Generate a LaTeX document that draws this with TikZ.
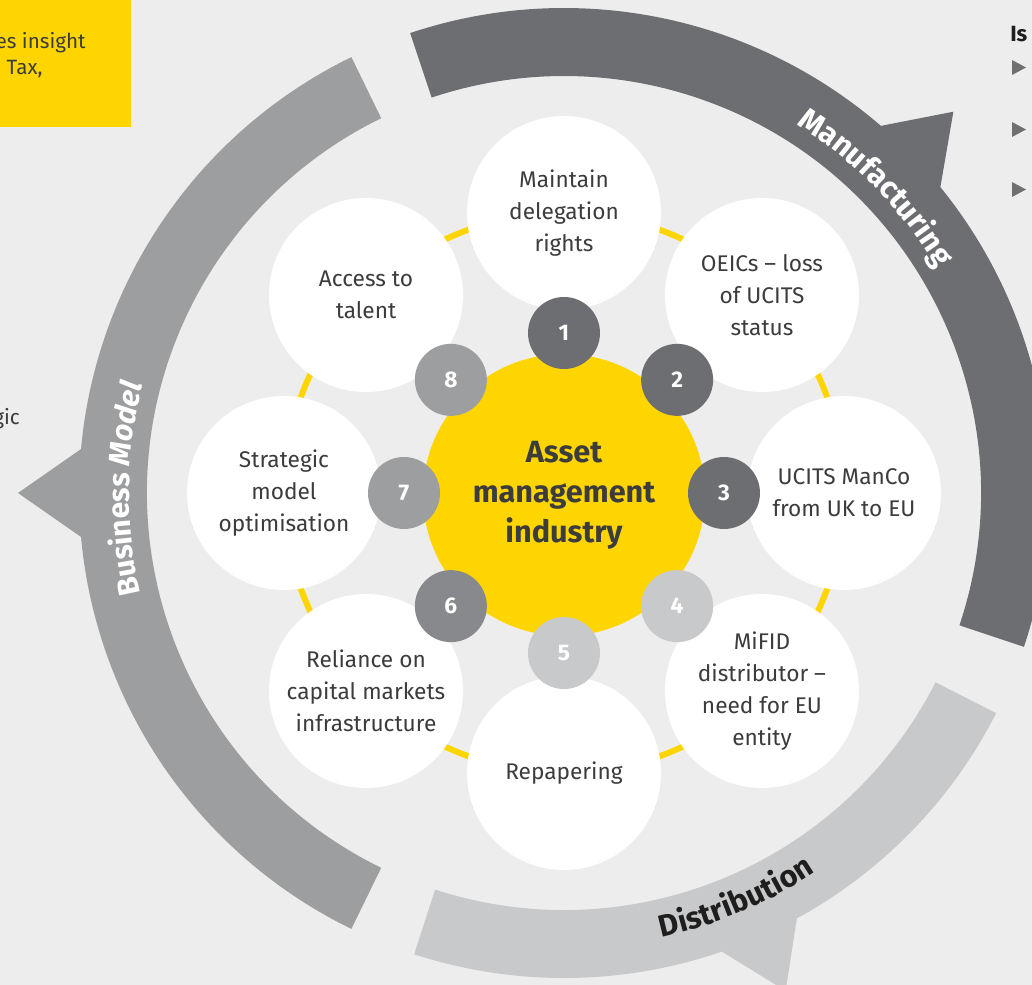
\documentclass[tikz,border=0pt]{standalone}
\usepackage{fontspec}
\setmainfont{Fira Sans}
\usetikzlibrary{decorations.text}
\definecolor{bg}{HTML}{EDEDED}
\definecolor{eyyellow}{HTML}{FFD500}
\definecolor{mfg}{HTML}{6D6E71}
\definecolor{bus}{HTML}{9D9EA0}
\definecolor{busdark}{HTML}{88898C}
\definecolor{dist}{HTML}{C8C9CB}
\definecolor{txt}{HTML}{3C3C3C}
\definecolor{txtdark}{HTML}{1E1E1E}
\definecolor{bullet}{HTML}{707070}
\tikzset{
  topic/.style={circle, fill=white, minimum size=145.5pt, inner sep=0pt, align=center,
    text=txt, font=\fontsize{17}{24}\selectfont},
  core/.style={circle, fill=eyyellow, minimum size=211.5pt, inner sep=0pt, align=center,
    text=txt, font=\fontsize{23}{30}\selectfont\bfseries},
  num/.style={circle, minimum size=54pt, inner sep=0pt, text=white,
    font=\fontsize{17}{20}\selectfont\bfseries},
  side/.style={text=txt, font=\fontsize{15.5}{22}\selectfont, inner sep=0pt}
}
\begin{document}
\begin{tikzpicture}[x=0.75pt,y=0.75pt]
% origin = centre of the diagram; 1 unit = 1 px of the reference
\useasboundingbox (-564,-492) rectangle (468,493);
\clip (-564,-492) rectangle (468,493);
\fill[bg] (-564,-492) rectangle (468,493);

% top-left yellow box with cropped text
\fill[eyyellow] (-564,366) rectangle (-433,493);
\node[side, anchor=base east] (ins) at (-478,444) {es insight};
\node[side, anchor=base east] (tax) at (-521,418) {n Tax,};
\node[side, anchor=base east] (gic) at (-544,68) {strategic};

% top-right cropped heading and bullets
\node[anchor=base west, inner sep=0pt, text=txtdark, font=\fontsize{16.5}{20}\selectfont\bfseries] (is) at (446,451) {Is};
\foreach \yc in {425.5,363.5,303.5}{
  \fill[bullet] (448,\yc+7.5) -- (462,\yc) -- (448,\yc-7.5) -- cycle;
}

% outer arrows
\fill[mfg] (108.5:485) arc[start angle=108.5,end angle=49.2,radius=485]
  -- (44.4:545) -- (39.1:485) arc[start angle=39.1,end angle=-18.5,radius=485]
  -- (-18.5:417) arc[start angle=-18.5,end angle=108.5,radius=417] -- cycle;
\fill[bus] (116:485) arc[start angle=116,end angle=174.8,radius=485]
  -- (180:546) -- (185.2:485) arc[start angle=185.2,end angle=244,radius=485]
  -- (244:417) arc[start angle=244,end angle=116,radius=417] -- cycle;
\fill[dist] (252:485) arc[start angle=252,end angle=289,radius=485]
  -- (294:545) -- (298.7:485) arc[start angle=298.7,end angle=333,radius=485]
  -- (333:417) arc[start angle=333,end angle=252,radius=417] -- cycle;

% arrow labels
\path[decorate, decoration={text along path, text align=center,
  text={|\fontsize{23}{26}\selectfont\bfseries\color{white}|Manufacturing}}]
  (84.4:436) arc[start angle=84.4,end angle=4.4,radius=436];
\path[decorate, decoration={text along path, text align=center,
  text={|\fontsize{22.5}{26}\selectfont\bfseries\color{white}|Business |\fontsize{22.5}{26}\selectfont\bfseries\itshape\color{white}|Model}}]
  (219.5:435) arc[start angle=219.5,end angle=139.5,radius=435];
\path[decorate, decoration={text along path, text align=center,
  text={|\fontsize{23}{26}\selectfont\bfseries\color{txtdark}|Distribution}}]
  (-107:455) arc[start angle=-107,end angle=-27,radius=455];

% yellow ring
\draw[eyyellow, line width=4.5pt] (0,0) circle[radius=280];

% topic circles
\node[topic] (t1) at (90:280)  {Maintain\\delegation\\rights};
\node[topic] (t2) at (45:280)  {OEICs – loss\\of UCITS\\status};
\node[topic] (t3) at (0:280)   {UCITS ManCo\\from UK to EU};
\node[topic] (t4) at (-45:280) {MiFID\\distributor –\\need for EU\\entity};
\node[topic] (t5) at (-90:280) {Repapering};
\node[topic] (t6) at (-135:280){Reliance on\\capital markets\\infrastructure};
\node[topic] (t7) at (180:280) {Strategic\\model\\optimisation};
\node[topic] (t8) at (135:280) {Access to\\talent};

% core
\node[core] (c) at (0,-2) {Asset\\management\\industry};

% number circles
\node[num, fill=mfg]     (n1) at (90:160)  {1};
\node[num, fill=mfg]     (n2) at (45:160)  {2};
\node[num, fill=mfg]     (n3) at (0:160)   {3};
\node[num, fill=dist]    (n4) at (-45:160) {4};
\node[num, fill=dist]    (n5) at (-90:160) {5};
\node[num, fill=busdark] (n6) at (-135:160){6};
\node[num, fill=bus]     (n7) at (180:160) {7};
\node[num, fill=bus]     (n8) at (135:160) {8};
\end{tikzpicture}
\end{document}
